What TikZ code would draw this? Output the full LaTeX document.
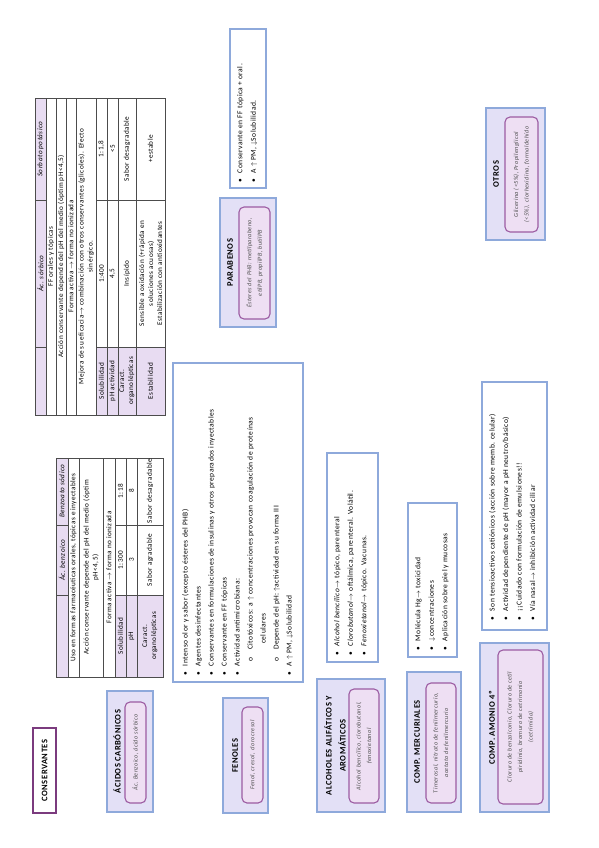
\documentclass[tikz,border=0pt]{standalone}
\usepackage{fontspec}
\setmainfont{Carlito}[LetterSpace=6]
\usetikzlibrary{positioning}

\definecolor{azulgrupo}{HTML}{8EA9DB}
\definecolor{lilagrupo}{HTML}{E3E0F6}
\definecolor{moradoint}{HTML}{9C5BA2}
\definecolor{rosaint}{HTML}{EEDFF3}
\definecolor{moradotit}{HTML}{7B3B7E}
\definecolor{lilacelda}{HTML}{E8DCF2}
\definecolor{grisint}{HTML}{505050}

\newcommand{\bala}{\textbullet\hspace{6pt}}
\newcommand{\subbala}{\hspace{14pt}o\hspace{8pt}}

\begin{document}
\begin{tikzpicture}[x=1pt, y=1pt,
    grupo/.style={draw=azulgrupo, fill=lilagrupo, line width=1.3pt, inner sep=0pt},
    interior/.style={draw=moradoint, fill=rosaint, line width=1.1pt, rounded corners=5pt,
        inner sep=0pt, align=center, text=grisint, font=\fontsize{6.2}{10.5}\selectfont\itshape},
    titulo/.style={font=\fontsize{8.5}{14}\selectfont\bfseries, align=center, inner sep=0pt},
    caja/.style={draw=azulgrupo, fill=white, line width=1.1pt, inner sep=0pt},
    lista/.style={font=\fontsize{7.5}{13.5}\selectfont, align=left, inner sep=0pt, anchor=north west},
    tabla/.style={draw=black!70, line width=0.5pt},
    celda/.style={fill=lilacelda},
    txt/.style={font=\fontsize{7.2}{9}\selectfont, align=center, inner sep=0pt}]

\useasboundingbox (0,0) rectangle (599,-848);

\begin{scope}[shift={(599,-848)}, rotate=90, transform shape]

% titulo general
\node[draw=moradotit, line width=1.6pt, fill=white, minimum width=85, minimum height=23,
    font=\fontsize{8.5}{10}\selectfont\bfseries] (conservantes) at (77.5,554.5) {CONSERVANTES};

% acidos carbonicos
\node[grupo, minimum width=121, minimum height=46] (acidos) at (96.5,469) {};
\node[titulo] (acidostit) at (96.5,482) {ÁCIDOS CARBÓNICOS};
\node[interior, minimum width=101, minimum height=21] (acidosint) at (95.5,463.5) {Ác. Benzoico, ácido sórbico};

% tabla acido benzoico
\fill[celda] (171,531) rectangle (390,543);
\fill[celda] (171,436) rectangle (253,484);
\draw[tabla] (171,436) rectangle (390,543);
\foreach \y in {531,520,496,484,473,462}
    \draw[tabla] (171,\y) -- (390,\y);
\foreach \x in {253,323} {
    \draw[tabla] (\x,531) -- (\x,543);
    \draw[tabla] (\x,436) -- (\x,484);
}
\node[txt] (benzcab1) at (288,537) {\textit{Ác. benzoico}};
\node[txt] (benzcab2) at (357,537) {\textit{Benzoato sódico}};
\node[txt] (benzuso) at (280.5,525.5) {Uso en formas farmacéuticas orales, tópicas e inyectables};
\node[txt] (benzaccion) at (280.5,508) {Acción conservante depende del pH del medio (óptim\\pH<4,5)};
\node[txt] (benzforma) at (280.5,490) {Forma activa $\rightarrow$ forma no ionizada};
\node[txt] (benzsol) at (212,478.5) {Solubilidad};
\node[txt] (benzsol1) at (288,478.5) {1:300};
\node[txt] (benzsol2) at (357,478.5) {1:18};
\node[txt] (benzph) at (212,467.5) {pH};
\node[txt] (benzph1) at (288,467.5) {3};
\node[txt] (benzph2) at (357,467.5) {8};
\node[txt] (benzorg) at (212,449) {Caract.\\organolépticas};
\node[txt] (benzorg1) at (288,449) {Sabor agradable};
\node[txt] (benzorg2) at (357,449) {Sabor desagradable};

% fenoles
\node[grupo, minimum width=115, minimum height=45] (fenoles) at (92.5,353.5) {};
\node[titulo] (fenolestit) at (92.5,364) {FENOLES};
\node[interior, minimum width=96, minimum height=21] (fenolesint) at (93,346.5) {Fenol, cresol, clorocresol};
\node[caja, minimum width=319, minimum height=130] (fenolescaja) at (325.5,361) {};
\node[lista, font=\fontsize{7.5}{13}\selectfont] (fenoleslista) at (172,417) {%
    \bala Intenso olor y sabor (excepto ésteres del PHB)\\
    \bala Agentes desinfectantes\\
    \bala Conservantes en formulaciones de insulinas y otros preparados inyectables\\
    \bala Conservante en FF tópicas\\
    \bala Actividad antimicrobiana:\\
    \subbala Citotóxicos: a $\uparrow$ concentraciones provocan coagulación de proteínas\\
    \hspace{32pt}celulares\\
    \subbala Depende del pH: $\uparrow$actividad en su forma III\\
    \bala A $\uparrow$ PM, $\downarrow$Solubilidad};

% alcoholes
\node[grupo, minimum width=133, minimum height=68] (alcoholes) at (102.5,248) {};
\node[titulo] (alcoholestit) at (102.5,264) {ALCOHOLES ALIFÁTICOS Y\\AROMÁTICOS};
\node[interior, minimum width=114, minimum height=30] (alcoholesint) at (102,235) {Alcohol bencílico, clorobutanol,\\fenoxietanol};
\node[caja, minimum width=209, minimum height=51] (alcoholescaja) at (290.5,246.5) {};
\node[lista] (alcoholeslista) at (192,265) {%
    \bala \textit{Alcohol bencílico}$\rightarrow$ tópico, parenteral\\
    \bala \textit{Clorobutanol}$\rightarrow$ oftálmica, parenteral. Volátil.\\
    \bala \textit{Fenoxietanol}$\rightarrow$ tópico. Vacunas.};

% mercuriales
\node[grupo, minimum width=140, minimum height=54] (mercuriales) at (106,165) {};
\node[titulo] (mercurialestit) at (106,182) {COMP. MERCURIALES};
\node[interior, minimum width=120, minimum height=30] (mercurialesint) at (105,158) {Timerosal, nitrato de fenilmercurio,\\acetato de fenilmercurio};
\node[caja, minimum width=154, minimum height=49] (mercurialescaja) at (268,166.5) {};
\node[lista] (mercurialeslista) at (197,184) {%
    \bala Molécula Hg$\rightarrow$ toxicidad\\
    \bala $\downarrow$concentraciones\\
    \bala Aplicación sobre piel y mucosas};

% amonio cuaternario
\node[grupo, minimum width=169, minimum height=69] (amonio) at (120.5,84.5) {};
\node[titulo] (amoniotit) at (120.5,107) {COMP. AMONIO 4º};
\node[interior, minimum width=154, minimum height=45] (amonioint) at (121,78.5) {Cloruro de benzalconio, Cloruro de cetil\\piridinio, bromuro de cetrimonio\\(cetrimida)};
\node[caja, minimum width=248, minimum height=65] (amoniocaja) at (342,84.5) {};
\node[lista] (amoniolista) at (227,110) {%
    \bala Son tensioactivos catiónicos (acción sobre memb. celular)\\
    \bala Actividad dependiente de pH (mayor a pH neutro/básico)\\
    \bala ¡¡Cuidado con formulación de emulsiones!!\\
    \bala Vía nasal$\rightarrow$ inhibición actividad ciliar};

% tabla acido sorbico
\fill[celda] (433,553) rectangle (750,564);
\fill[celda] (433,434) rectangle (501,503);
\draw[tabla] (433,434) rectangle (750,564);
\foreach \y in {553,543,533,523,503,492,481,463}
    \draw[tabla] (433,\y) -- (750,\y);
\foreach \x in {501,648} {
    \draw[tabla] (\x,553) -- (\x,564);
    \draw[tabla] (\x,434) -- (\x,503);
}
\node[txt] (sorbcab1) at (574.5,558.5) {\textit{Ác. sórbico}};
\node[txt] (sorbcab2) at (699,558.5) {\textit{Sorbato potásico}};
\node[txt] (sorbff) at (591.5,548) {FF orales y tópicas};
\node[txt] (sorbaccion) at (591.5,538) {Acción conservante depende del pH del medio (óptim pH<4,5)};
\node[txt] (sorbforma) at (591.5,528) {Forma activa $\rightarrow$ forma no ionizada};
\node[txt] (sorbmejora) at (591.5,513) {Mejora de su eficacia$\rightarrow$ combinación con otros conservantes (glicoles). Efecto\\sinérgico.};
\node[txt] (sorbsol) at (467,497.5) {Solubilidad};
\node[txt] (sorbsol1) at (574.5,497.5) {1:400};
\node[txt] (sorbsol2) at (699,497.5) {1:1,8};
\node[txt] (sorbph) at (467,486.5) {pH actividad};
\node[txt] (sorbph1) at (574.5,486.5) {4,5};
\node[txt] (sorbph2) at (699,486.5) {<5};
\node[txt] (sorborg) at (467,472) {Caract.\\organolépticas};
\node[txt] (sorborg1) at (574.5,472) {Insípido};
\node[txt] (sorborg2) at (699,472) {Sabor desagradable};
\node[txt] (sorbest) at (467,448.5) {Estabilidad};
\node[txt] (sorbest1) at (574.5,448.5) {Sensible a oxidación (+rápida en\\soluciones acuosas)\\Estabilización con antioxidantes};
\node[txt] (sorbest2) at (699,448.5) {+estable};

% parabenos
\node[grupo, minimum width=129, minimum height=56] (parabenos) at (585.5,351) {};
\node[titulo] (parabenostit) at (585.5,369) {PARABENOS};
\node[interior, minimum width=112, minimum height=31] (parabenosint) at (585,344.5) {Ésteres del PHB: metilparabeno,\\etilPB, propilPB, butilPB};
\node[caja, minimum width=159, minimum height=36] (parabenoscaja) at (739.5,351) {};
\node[lista] (parabenoslista) at (665,362) {%
    \bala Conservante en FF tópica + oral.\\
    \bala A $\uparrow$ PM, $\downarrow$Solubilidad.};

% otros
\node[grupo, minimum width=132, minimum height=59] (otros) at (674,83.5) {};
\node[titulo] (otrostit) at (674,103) {OTROS};
\node[interior, minimum width=115, minimum height=33] (otrosint) at (673.5,77.5) {Glicerina (<5\%), Propilenglicol\\(<5\%), clorhexidina, formaldehído};

\end{scope}
\end{tikzpicture}
\end{document}
